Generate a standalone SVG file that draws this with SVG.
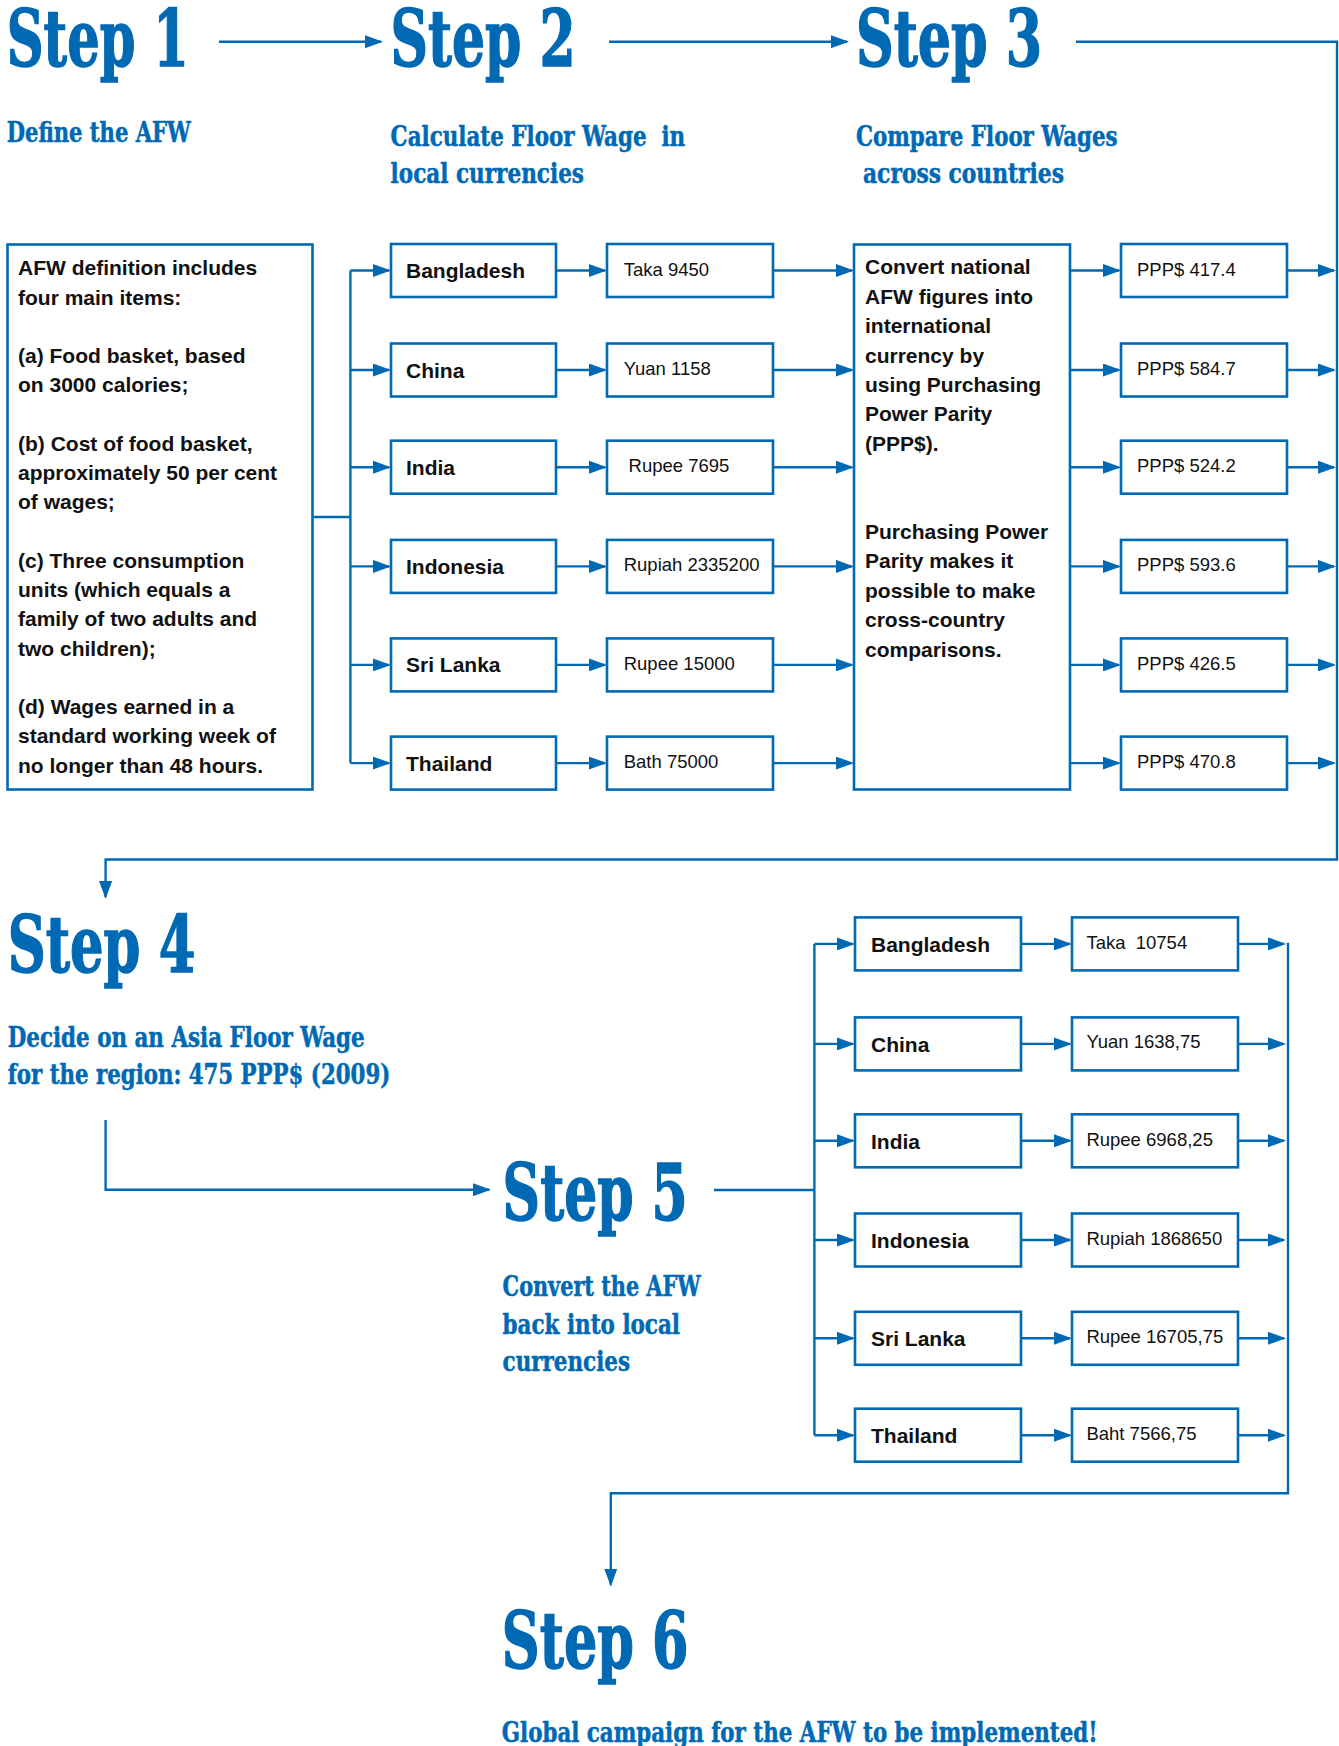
<svg xmlns="http://www.w3.org/2000/svg" width="1339" height="1746" viewBox="0 0 1339 1746">
<defs>
<marker id="ah" markerUnits="userSpaceOnUse" markerWidth="18" markerHeight="13" refX="16" refY="6.5" orient="auto"><path d="M0,0 L18,6.5 L0,13 z" fill="#0069b4"/></marker>
<style>
.box{fill:#fff;stroke:#0069b4;stroke-width:2.6}
.ln{fill:none;stroke:#0069b4;stroke-width:2.4}
.ar{fill:none;stroke:#0069b4;stroke-width:2.4;marker-end:url(#ah)}
.h{font-family:"DejaVu Serif",serif;font-weight:bold;font-stretch:condensed;fill:#0069b4;stroke:#0069b4}
.h1{font-size:78px;stroke-width:1.4}
.h2{font-size:28px;stroke-width:0.5}
.b{font-family:"Liberation Sans",Arial,sans-serif;font-weight:bold;font-size:21px;fill:#111}
.v{font-family:"Liberation Sans",Arial,sans-serif;font-size:18.5px;fill:#111}
</style>
</defs>
<rect width="1339" height="1746" fill="#fff"/>

<g id="headings">
<g id="step1"><text class="h h1" x="6.7" y="66" textLength="182" lengthAdjust="spacingAndGlyphs">Step 1</text>
<text class="h h2" x="6.7" y="141.7" textLength="184" lengthAdjust="spacingAndGlyphs">Define the AFW</text></g>
<g id="step2"><text class="h h1" x="390.6" y="66" textLength="185" lengthAdjust="spacingAndGlyphs">Step 2</text>
<text class="h h2" x="390.6" y="145.7" textLength="294.6" lengthAdjust="spacingAndGlyphs" xml:space="preserve">Calculate Floor Wage  in</text>
<text class="h h2" x="390.6" y="182.7" textLength="193.4" lengthAdjust="spacingAndGlyphs">local currencies</text></g>
<g id="step3"><text class="h h1" x="856" y="66" textLength="186" lengthAdjust="spacingAndGlyphs">Step 3</text>
<text class="h h2" x="856" y="145.7" textLength="261.6" lengthAdjust="spacingAndGlyphs">Compare Floor Wages</text>
<text class="h h2" x="863" y="182.7" textLength="201" lengthAdjust="spacingAndGlyphs">across countries</text></g>
<g id="step4"><text class="h h1" x="7.7" y="972" textLength="187.7" lengthAdjust="spacingAndGlyphs">Step 4</text>
<text class="h h2" x="7.7" y="1047" textLength="357" lengthAdjust="spacingAndGlyphs">Decide on an Asia Floor Wage</text>
<text class="h h2" x="7.7" y="1084.3" textLength="382.6" lengthAdjust="spacingAndGlyphs">for the region: 475 PPP$ (2009)</text></g>
<g id="step5"><text class="h h1" x="502.6" y="1220" textLength="185.2" lengthAdjust="spacingAndGlyphs">Step 5</text>
<text class="h h2" x="502.6" y="1296" textLength="198" lengthAdjust="spacingAndGlyphs">Convert the AFW</text>
<text class="h h2" x="502.6" y="1334" textLength="177.4" lengthAdjust="spacingAndGlyphs">back into local</text>
<text class="h h2" x="502.6" y="1371" textLength="127.4" lengthAdjust="spacingAndGlyphs">currencies</text></g>
<g id="step6"><text class="h h1" x="501.8" y="1667.5" textLength="186.8" lengthAdjust="spacingAndGlyphs">Step 6</text>
<text class="h h2" x="501.8" y="1742" textLength="595.8" lengthAdjust="spacingAndGlyphs">Global campaign for the AFW to be implemented!</text></g>
</g>

<g id="connectors">
<path class="ar" d="M219,41.7 H381"/>
<path class="ar" d="M609,41.7 H847"/>
<path class="ar" d="M1076,41.7 H1337 V859.5 H105.6 V897"/>
<path class="ln" d="M312.5,517 H350.4 M350.4,270.5 V763.1"/>
<path class="ar" d="M350.4,270.5 H389"/>
<path class="ar" d="M350.4,370 H389"/>
<path class="ar" d="M350.4,467.2 H389"/>
<path class="ar" d="M350.4,566.4 H389"/>
<path class="ar" d="M350.4,664.9 H389"/>
<path class="ar" d="M350.4,763.1 H389"/>
<path class="ar" d="M556,270.5 H605"/>
<path class="ar" d="M556,370 H605"/>
<path class="ar" d="M556,467.2 H605"/>
<path class="ar" d="M556,566.4 H605"/>
<path class="ar" d="M556,664.9 H605"/>
<path class="ar" d="M556,763.1 H605"/>
<path class="ar" d="M773,270.5 H852"/>
<path class="ar" d="M773,370 H852"/>
<path class="ar" d="M773,467.2 H852"/>
<path class="ar" d="M773,566.4 H852"/>
<path class="ar" d="M773,664.9 H852"/>
<path class="ar" d="M773,763.1 H852"/>
<path class="ar" d="M1070,270.5 H1119"/>
<path class="ar" d="M1070,370 H1119"/>
<path class="ar" d="M1070,467.2 H1119"/>
<path class="ar" d="M1070,566.4 H1119"/>
<path class="ar" d="M1070,664.9 H1119"/>
<path class="ar" d="M1070,763.1 H1119"/>
<path class="ar" d="M1287,270.5 H1334"/>
<path class="ar" d="M1287,370 H1334"/>
<path class="ar" d="M1287,467.2 H1334"/>
<path class="ar" d="M1287,566.4 H1334"/>
<path class="ar" d="M1287,664.9 H1334"/>
<path class="ar" d="M1287,763.1 H1334"/>
<path class="ar" d="M105.6,1120 V1189.7 H489"/>
<path class="ln" d="M714,1190 H814.4 M814.4,943.9 V1435.2"/>
<path class="ar" d="M814.4,943.9 H853"/>
<path class="ar" d="M814.4,1043.9 H853"/>
<path class="ar" d="M814.4,1140.8 H853"/>
<path class="ar" d="M814.4,1240 H853"/>
<path class="ar" d="M814.4,1338.3 H853"/>
<path class="ar" d="M814.4,1435.2 H853"/>
<path class="ar" d="M1021,943.9 H1070"/>
<path class="ar" d="M1021,1043.9 H1070"/>
<path class="ar" d="M1021,1140.8 H1070"/>
<path class="ar" d="M1021,1240 H1070"/>
<path class="ar" d="M1021,1338.3 H1070"/>
<path class="ar" d="M1021,1435.2 H1070"/>
<path class="ar" d="M1238,943.9 H1284"/>
<path class="ar" d="M1238,1043.9 H1284"/>
<path class="ar" d="M1238,1140.8 H1284"/>
<path class="ar" d="M1238,1240 H1284"/>
<path class="ar" d="M1238,1338.3 H1284"/>
<path class="ar" d="M1238,1435.2 H1284"/>
<path class="ar" d="M1288,942.7 V1493.3 H610.8 V1584.7"/>
</g>

<g id="afw-definition">
<rect class="box" x="7.5" y="244.5" width="305" height="545"/>
<text class="b" x="18">
<tspan x="18" y="275.4">AFW definition includes</tspan>
<tspan x="18" y="304.6">four main items:</tspan>
<tspan x="18" y="363.1">(a) Food basket, based</tspan>
<tspan x="18" y="392.4">on 3000 calories;</tspan>
<tspan x="18" y="450.9">(b) Cost of food basket,</tspan>
<tspan x="18" y="480.1">approximately 50 per cent</tspan>
<tspan x="18" y="509.4">of wages;</tspan>
<tspan x="18" y="567.9">(c) Three consumption</tspan>
<tspan x="18" y="597.1">units (which equals a</tspan>
<tspan x="18" y="626.4">family of two adults and</tspan>
<tspan x="18" y="655.6">two children);</tspan>
<tspan x="18" y="714.1">(d) Wages earned in a</tspan>
<tspan x="18" y="743.4">standard working week of</tspan>
<tspan x="18" y="772.6">no longer than 48 hours.</tspan>
</text>
</g>

<g id="s2-bangladesh"><rect class="box" x="391" y="244" width="165" height="53"/><text class="b" x="406" y="278">Bangladesh</text></g>
<g id="s2-china"><rect class="box" x="391" y="343.5" width="165" height="53"/><text class="b" x="406" y="377.5">China</text></g>
<g id="s2-india"><rect class="box" x="391" y="440.7" width="165" height="53"/><text class="b" x="406" y="474.7">India</text></g>
<g id="s2-indonesia"><rect class="box" x="391" y="539.9" width="165" height="53"/><text class="b" x="406" y="573.9">Indonesia</text></g>
<g id="s2-srilanka"><rect class="box" x="391" y="638.4" width="165" height="53"/><text class="b" x="406" y="672.4">Sri Lanka</text></g>
<g id="s2-thailand"><rect class="box" x="391" y="736.6" width="165" height="53"/><text class="b" x="406" y="770.6">Thailand</text></g>

<g id="s2-taka"><rect class="box" x="607" y="244" width="166" height="53"/><text class="v" x="623.7" y="275.5">Taka 9450</text></g>
<g id="s2-yuan"><rect class="box" x="607" y="343.5" width="166" height="53"/><text class="v" x="623.7" y="375">Yuan 1158</text></g>
<g id="s2-rupee-in"><rect class="box" x="607" y="440.7" width="166" height="53"/><text class="v" x="628.6" y="472.2">Rupee 7695</text></g>
<g id="s2-rupiah"><rect class="box" x="607" y="539.9" width="166" height="53"/><text class="v" x="623.7" y="571.4">Rupiah 2335200</text></g>
<g id="s2-rupee-lk"><rect class="box" x="607" y="638.4" width="166" height="53"/><text class="v" x="623.7" y="669.9">Rupee 15000</text></g>
<g id="s2-bath"><rect class="box" x="607" y="736.6" width="166" height="53"/><text class="v" x="623.7" y="768.1">Bath 75000</text></g>

<g id="ppp-convert">
<rect class="box" x="854" y="244.5" width="216" height="545"/>
<text class="b">
<tspan x="865" y="274.3">Convert national</tspan>
<tspan x="865" y="303.7">AFW figures into</tspan>
<tspan x="865" y="333.1">international</tspan>
<tspan x="865" y="362.5">currency by</tspan>
<tspan x="865" y="391.9">using Purchasing</tspan>
<tspan x="865" y="421.3">Power Parity</tspan>
<tspan x="865" y="450.7">(PPP$).</tspan>
<tspan x="865" y="538.9">Purchasing Power</tspan>
<tspan x="865" y="568.3">Parity makes it</tspan>
<tspan x="865" y="597.7">possible to make</tspan>
<tspan x="865" y="627.1">cross-country</tspan>
<tspan x="865" y="656.5">comparisons.</tspan>
</text>
</g>

<g id="ppp-bangladesh"><rect class="box" x="1121" y="244" width="166" height="53"/><text class="v" x="1137" y="275.5">PPP$ 417.4</text></g>
<g id="ppp-china"><rect class="box" x="1121" y="343.5" width="166" height="53"/><text class="v" x="1137" y="375">PPP$ 584.7</text></g>
<g id="ppp-india"><rect class="box" x="1121" y="440.7" width="166" height="53"/><text class="v" x="1137" y="472.2">PPP$ 524.2</text></g>
<g id="ppp-indonesia"><rect class="box" x="1121" y="539.9" width="166" height="53"/><text class="v" x="1137" y="571.4">PPP$ 593.6</text></g>
<g id="ppp-srilanka"><rect class="box" x="1121" y="638.4" width="166" height="53"/><text class="v" x="1137" y="669.9">PPP$ 426.5</text></g>
<g id="ppp-thailand"><rect class="box" x="1121" y="736.6" width="166" height="53"/><text class="v" x="1137" y="768.1">PPP$ 470.8</text></g>

<g id="s5-bangladesh"><rect class="box" x="855" y="917.4" width="166" height="53"/><text class="b" x="871" y="951.9">Bangladesh</text></g>
<g id="s5-china"><rect class="box" x="855" y="1017.4" width="166" height="53"/><text class="b" x="871" y="1051.9">China</text></g>
<g id="s5-india"><rect class="box" x="855" y="1114.3" width="166" height="53"/><text class="b" x="871" y="1148.8">India</text></g>
<g id="s5-indonesia"><rect class="box" x="855" y="1213.5" width="166" height="53"/><text class="b" x="871" y="1248">Indonesia</text></g>
<g id="s5-srilanka"><rect class="box" x="855" y="1311.8" width="166" height="53"/><text class="b" x="871" y="1346.3">Sri Lanka</text></g>
<g id="s5-thailand"><rect class="box" x="855" y="1408.7" width="166" height="53"/><text class="b" x="871" y="1443.2">Thailand</text></g>

<g id="s5-taka"><rect class="box" x="1072" y="917.4" width="166" height="53"/><text class="v" x="1086.4" y="948.9" xml:space="preserve">Taka  10754</text></g>
<g id="s5-yuan"><rect class="box" x="1072" y="1017.4" width="166" height="53"/><text class="v" x="1086.4" y="1048.4">Yuan 1638,75</text></g>
<g id="s5-rupee-in"><rect class="box" x="1072" y="1114.3" width="166" height="53"/><text class="v" x="1086.4" y="1145.8">Rupee 6968,25</text></g>
<g id="s5-rupiah"><rect class="box" x="1072" y="1213.5" width="166" height="53"/><text class="v" x="1086.4" y="1245">Rupiah 1868650</text></g>
<g id="s5-rupee-lk"><rect class="box" x="1072" y="1311.8" width="166" height="53"/><text class="v" x="1086.4" y="1343.3">Rupee 16705,75</text></g>
<g id="s5-baht"><rect class="box" x="1072" y="1408.7" width="166" height="53"/><text class="v" x="1086.4" y="1440.2">Baht 7566,75</text></g>
</svg>
